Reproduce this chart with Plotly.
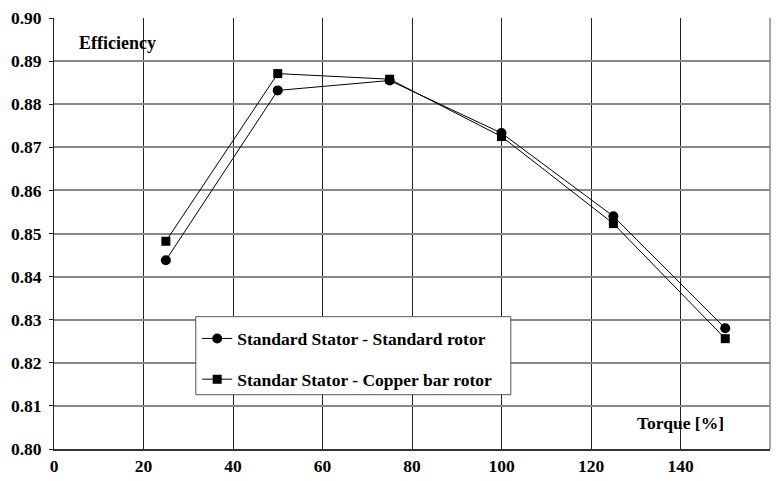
import plotly.graph_objects as go

torque = [25, 50, 75, 100, 125, 150]
eff_standard = [0.8438, 0.8832, 0.8855, 0.8733, 0.8540, 0.8280]
eff_copper = [0.8482, 0.8871, 0.8858, 0.8725, 0.8523, 0.8256]
x_ticks = [0, 20, 40, 60, 80, 100, 120, 140, 160]
y_ticks = [0.80, 0.81, 0.82, 0.83, 0.84, 0.85, 0.86, 0.87, 0.88, 0.89, 0.90]
names = ["Standard Stator - Standard rotor", "Standar Stator - Copper bar rotor"]

font = "Liberation Serif, Times New Roman, serif"

fig = go.Figure()
fig.add_trace(go.Scatter(x=torque, y=eff_standard, mode="lines+markers", name=names[0],
                         legendgroup="a",
                         line=dict(color="black", width=1),
                         marker=dict(symbol="circle", size=10, color="black")))
fig.add_trace(go.Scatter(x=torque, y=eff_copper, mode="lines+markers", name=names[1],
                         legendgroup="b",
                         line=dict(color="black", width=1),
                         marker=dict(symbol="square", size=9, color="black")))

# page body has an 8px default margin; size the figure to fit the window
fig.update_layout(
    width=772, height=473,
    margin=dict(l=46, r=10, t=10, b=31.5),
    paper_bgcolor="white", plot_bgcolor="white",
    font=dict(family=font, size=17, color="black"),
    showlegend=True,
    legend=dict(x=0.2, y=0.298, xanchor="left", yanchor="top",
                bgcolor="rgba(0,0,0,0)", borderwidth=0,
                font=dict(family=font, size=17.5, color="black", weight="bold"),
                tracegroupgap=15, itemwidth=30),
    xaxis=dict(range=[0, 160], tickvals=x_ticks, ticktext=[str(v) for v in x_ticks],
               showgrid=True, gridcolor="#222", gridwidth=1,
               showline=True, linecolor="#333", linewidth=2, mirror=False,
               zeroline=False, ticks="", automargin=False,
               tickfont=dict(family=font, size=17.5, color="black", weight="bold")),
    yaxis=dict(range=[0.80, 0.90], tickvals=y_ticks, ticktext=[f"{v:.2f}" for v in y_ticks],
               showgrid=True, gridcolor="#888", gridwidth=1.5,
               showline=True, linecolor="#222", linewidth=1, mirror=False,
               zeroline=False, ticks="outside", ticklen=4, tickcolor="#222",
               ticklabelstandoff=4, automargin=False,
               tickfont=dict(family=font, size=17.5, color="black", weight="bold")),
    annotations=[
        dict(text="Efficiency", x=0.032, y=0.943, xref="paper", yref="paper",
             xanchor="left", yanchor="middle", showarrow=False,
             font=dict(family=font, size=18, color="black", weight="bold")),
        dict(text="Torque [%]", x=0.938, y=0.06, xref="paper", yref="paper",
             xanchor="right", yanchor="middle", showarrow=False,
             font=dict(family=font, size=17.5, color="black", weight="bold")),
    ],
)
# legend frame (white box with grey border)
fig.add_shape(type="rect", xref="paper", yref="paper", x0=0.198, x1=0.638, y0=0.126, y1=0.307,
              fillcolor="white", line=dict(color="#555", width=1), layer="above")
# right border of plot area
fig.add_shape(type="line", xref="paper", yref="paper", x0=1, x1=1, y0=0, y1=1,
              line=dict(color="#888", width=1.5))

fig.write_html("out.html")
